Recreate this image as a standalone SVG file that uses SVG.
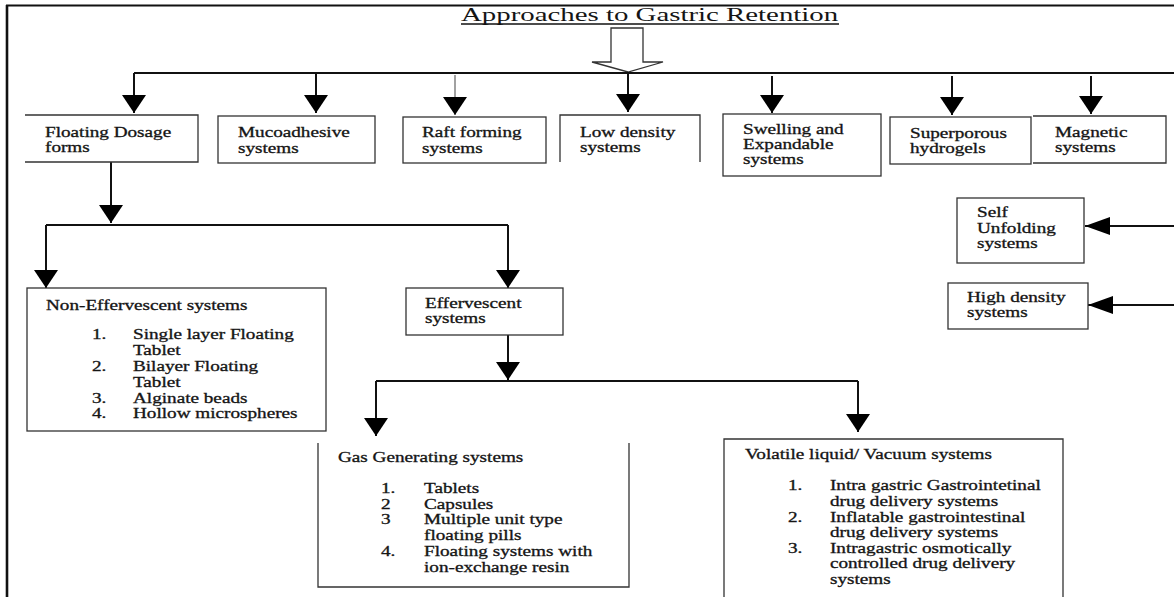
<svg xmlns="http://www.w3.org/2000/svg" width="1174" height="597" viewBox="0 0 1174 597">
<style>
.t text{font-family:"Liberation Serif","Times New Roman",serif;font-size:14px;fill:#151515;stroke:#151515;stroke-width:0.3}
.ttl text{font-family:"Liberation Serif","Times New Roman",serif;font-size:19.5px;fill:#151515}
.box{fill:none;stroke:#333;stroke-width:1.3}
.ln{fill:none;stroke:#111;stroke-width:2}
.ln.gray{stroke:#8a8a8a;stroke-width:1.6}
.frame{fill:none;stroke:#111}
</style>
<defs>
<marker id="ah" viewBox="0 0 18 24" refX="18" refY="12" markerWidth="18" markerHeight="24" markerUnits="userSpaceOnUse" orient="auto">
<path d="M0,0 L18,12 L0,24 Z" fill="#000"/>
</marker>
<marker id="ahs" viewBox="0 0 25 18" refX="25" refY="9" markerWidth="25" markerHeight="18" markerUnits="userSpaceOnUse" orient="auto">
<path d="M0,0 L25,9 L0,18 Z" fill="#000"/>
</marker>
</defs>
<rect width="1174" height="597" fill="#fff"/>
<g id="frame">
<line class="frame" x1="7" y1="5" x2="7" y2="597" stroke-width="2.6"/>
<line class="frame" x1="6" y1="5.5" x2="1174" y2="5.5" stroke-width="2"/>
</g>
<g id="title">
<g class="ttl" transform="translate(461 0) scale(1.48 1)"><text x="0" y="21">Approaches to Gastric Retention</text></g>
<line x1="461" y1="24" x2="839" y2="24" stroke="#111" stroke-width="1.3"/>
<polygon points="611,28 643,28 643,62 663,62 628,72 592,62 611,62" fill="#fff" stroke="#333" stroke-width="1.3"/>
</g>
<g id="connectors">
<line class="ln" x1="134" y1="73" x2="1174" y2="73"/>
<line class="ln" x1="134" y1="73" x2="134" y2="113" marker-end="url(#ah)"/>
<line class="ln" x1="316" y1="73" x2="316" y2="113" marker-end="url(#ah)"/>
<line class="ln gray" x1="455" y1="75" x2="455" y2="115" marker-end="url(#ah)"/>
<line class="ln" x1="628" y1="73" x2="628" y2="112" marker-end="url(#ah)"/>
<line class="ln" x1="772" y1="76" x2="772" y2="113" marker-end="url(#ah)"/>
<line class="ln" x1="952" y1="76" x2="952" y2="115" marker-end="url(#ah)"/>
<line class="ln" x1="1091" y1="76" x2="1091" y2="114" marker-end="url(#ah)"/>
<line class="ln" x1="111" y1="162" x2="111" y2="223" marker-end="url(#ah)"/>
<line class="ln" x1="46" y1="225" x2="508" y2="225"/>
<line class="ln" x1="46" y1="225" x2="46" y2="288" marker-end="url(#ah)"/>
<line class="ln" x1="508" y1="225" x2="508" y2="288" marker-end="url(#ah)"/>
<line class="ln" x1="508" y1="335" x2="508" y2="380" marker-end="url(#ah)"/>
<line class="ln" x1="376" y1="381" x2="858" y2="381"/>
<line class="ln" x1="376" y1="381" x2="376" y2="436" marker-end="url(#ah)"/>
<line class="ln" x1="858" y1="381" x2="858" y2="432" marker-end="url(#ah)"/>
<line class="ln" x1="1174" y1="226" x2="1085" y2="226" marker-end="url(#ahs)"/>
<line class="ln" x1="1174" y1="305" x2="1088" y2="305" marker-end="url(#ahs)"/>
</g>
<g id="n-floating">
<path class="box" d="M25,115 H198 V162 H25"/>
<g class="t" transform="translate(45 0) scale(1.37 1)"><text x="0" y="137">Floating Dosage</text><text x="0" y="152">forms</text></g>
</g>
<g id="n-mucoadhesive">
<rect class="box" x="218" y="116" width="157" height="47"/>
<g class="t" transform="translate(238 0) scale(1.37 1)"><text x="0" y="137">Mucoadhesive</text><text x="0" y="153">systems</text></g>
</g>
<g id="n-raft">
<rect class="box" x="403" y="117" width="143" height="46"/>
<g class="t" transform="translate(422 0) scale(1.37 1)"><text x="0" y="137">Raft forming</text><text x="0" y="153">systems</text></g>
</g>
<g id="n-lowdensity">
<path class="box" d="M560,162 V115 H700 V162"/>
<g class="t" transform="translate(580 0) scale(1.37 1)"><text x="0" y="137">Low density</text><text x="0" y="152">systems</text></g>
</g>
<g id="n-swelling">
<rect class="box" x="723" y="114" width="158" height="62"/>
<g class="t" transform="translate(743 0) scale(1.37 1)"><text x="0" y="134">Swelling and</text><text x="0" y="149">Expandable</text><text x="0" y="164">systems</text></g>
</g>
<g id="n-superporous">
<rect class="box" x="890" y="117" width="141" height="47"/>
<g class="t" transform="translate(910 0) scale(1.37 1)"><text x="0" y="138">Superporous</text><text x="0" y="153">hydrogels</text></g>
</g>
<g id="n-magnetic">
<path class="box" d="M1033,116 H1166 V163 H1033"/>
<g class="t" transform="translate(1055 0) scale(1.37 1)"><text x="0" y="137">Magnetic</text><text x="0" y="152">systems</text></g>
</g>
<g id="n-selfunfolding">
<rect class="box" x="957" y="198" width="127" height="65"/>
<g class="t" transform="translate(977 0) scale(1.37 1)"><text x="0" y="217">Self</text><text x="0" y="233">Unfolding</text><text x="0" y="248">systems</text></g>
</g>
<g id="n-highdensity">
<rect class="box" x="948" y="283" width="140" height="46"/>
<g class="t" transform="translate(967 0) scale(1.37 1)"><text x="0" y="302">High density</text><text x="0" y="317">systems</text></g>
</g>
<g id="n-noneffervescent">
<rect class="box" x="27" y="288" width="299" height="143"/>
<g class="t" transform="translate(46 0) scale(1.37 1)">
<text x="0" y="310">Non-Effervescent systems</text>
<text x="33.6" y="339">1.</text><text x="63.5" y="339">Single layer Floating</text>
<text x="63.5" y="355">Tablet</text>
<text x="33.6" y="371">2.</text><text x="63.5" y="371">Bilayer Floating</text>
<text x="63.5" y="387">Tablet</text>
<text x="33.6" y="403">3.</text><text x="63.5" y="403">Alginate beads</text>
<text x="33.6" y="418">4.</text><text x="63.5" y="418">Hollow microspheres</text>
</g>
</g>
<g id="n-effervescent">
<rect class="box" x="406" y="288" width="157" height="47"/>
<g class="t" transform="translate(425 0) scale(1.37 1)"><text x="0" y="308">Effervescent</text><text x="0" y="323">systems</text></g>
</g>
<g id="n-gas">
<path class="box" d="M318,443 V587 H629 V443"/>
<g class="t" transform="translate(338 0) scale(1.37 1)">
<text x="0" y="462">Gas Generating systems</text>
<text x="31.4" y="493">1.</text><text x="62.8" y="493">Tablets</text>
<text x="31.4" y="509">2</text><text x="62.8" y="509">Capsules</text>
<text x="31.4" y="524">3</text><text x="62.8" y="524">Multiple unit type</text>
<text x="62.8" y="540">floating pills</text>
<text x="31.4" y="556">4.</text><text x="62.8" y="556">Floating systems with</text>
<text x="62.8" y="572">ion-exchange resin</text>
</g>
</g>
<g id="n-volatile">
<path class="box" d="M724,597 V439 H1063 V597"/>
<g class="t" transform="translate(745 0) scale(1.37 1)">
<text x="0" y="459">Volatile liquid/ Vacuum systems</text>
<text x="31.4" y="490">1.</text><text x="62" y="490">Intra gastric Gastrointetinal</text>
<text x="62" y="506">drug delivery systems</text>
<text x="31.4" y="522">2.</text><text x="62" y="522">Inflatable gastrointestinal</text>
<text x="62" y="537">drug delivery systems</text>
<text x="31.4" y="553">3.</text><text x="62" y="553">Intragastric osmotically</text>
<text x="62" y="568">controlled drug delivery</text>
<text x="62" y="584">systems</text>
</g>
</g>
</svg>
